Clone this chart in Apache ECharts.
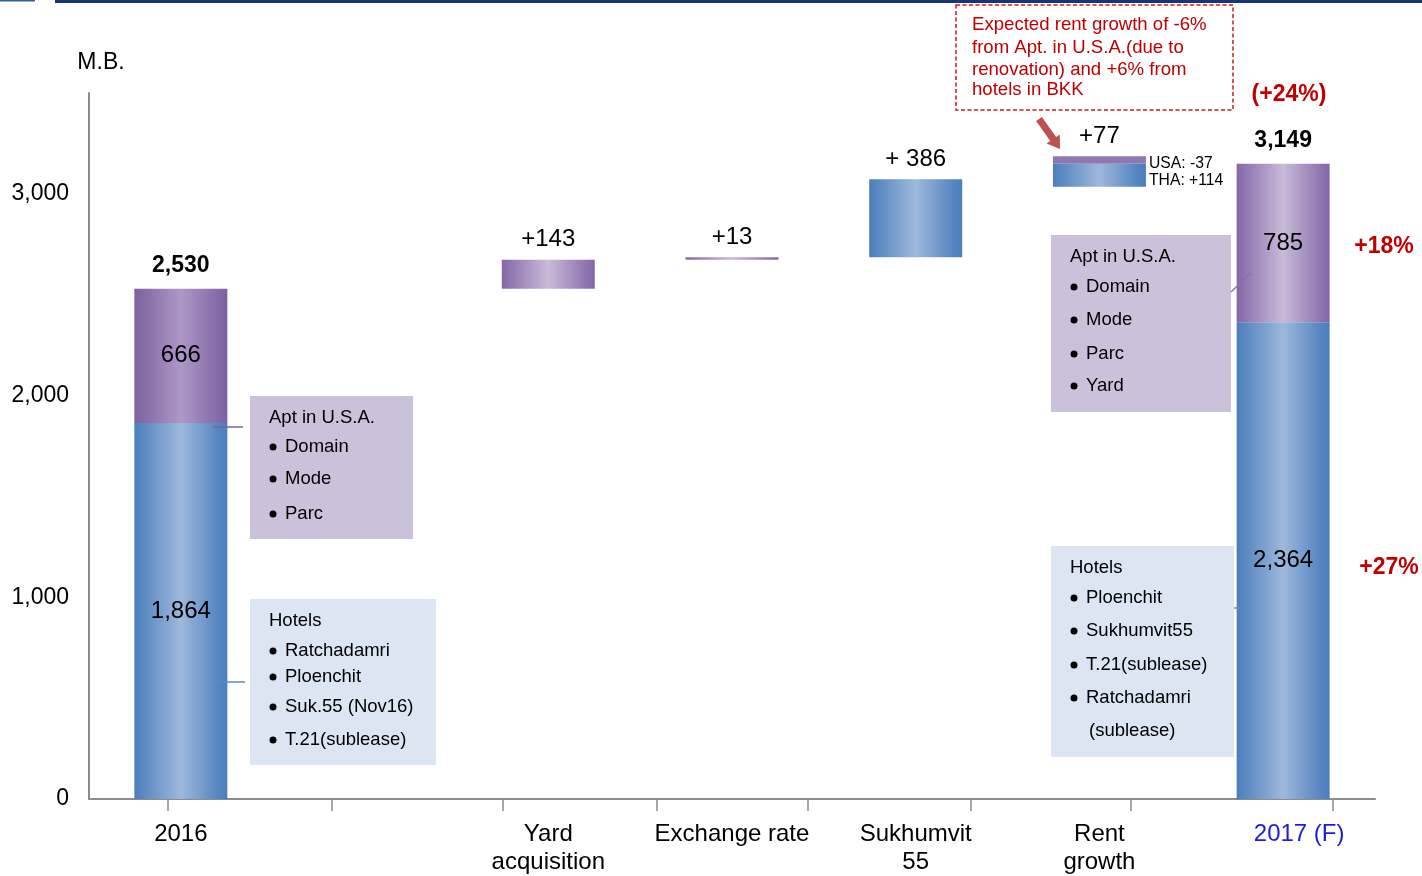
<!DOCTYPE html>
<html>
<head>
<meta charset="utf-8">
<script src="https://cdn.jsdelivr.net/npm/echarts@6/dist/echarts.min.js"></script>
<style>
  html, body { margin: 0; padding: 0; background: #fff; }
  #chart { width: 1422px; height: 876px; }
</style>
</head>
<body>
<div id="chart"></div>
<script>
// Revenue bridge 2016 -> 2017 (F), million baht
const categories = ['2016', '', 'Yard\nacquisition', 'Exchange rate', 'Sukhumvit\n55', 'Rent\ngrowth', '2017 (F)'];
const baseValues = [0, null, 2530, 2673, 2686, 3035, 0];      // invisible floor of each step
const hotelValues = [1864, null, null, null, 386, 114, 2364];  // hotels in Thailand
const aptValues = [666, null, 143, 13, null, 37, 785];         // apartments in U.S.A.
const totalValues = [2530, null, null, null, null, null, 3149];
const changeLabels = ['', '', '+143', '+13', '+ 386', '+77', ''];
const yTicks = [0, 1000, 2000, 3000];

const FONT = '"Liberation Sans", Arial, sans-serif';
const fmt = v => v.toLocaleString('en-US');
const isTotal = i => totalValues[i] != null;

const grad = stops => new echarts.graphic.LinearGradient(0, 0, 1, 0,
  stops.map(c => ({ offset: c[0], color: c[1] })));
const blueFill = grad([[0, '#4b7ebc'], [0.5, '#9db8db'], [0.9, '#5686c2'], [1, '#4b7ebc']]);
const purpleFill = grad([[0, '#8467a6'], [0.5, '#c8bbd9'], [0.92, '#8c73ae'], [1, '#8467a6']]);
const purpleDark = grad([[0, '#7d60a1'], [0.5, '#ad98c6'], [0.92, '#8468a7'], [1, '#7d60a1']]);
const purpleFlat = '#8f78b1';

const labelBase = { fontFamily: FONT, fontSize: 24, color: '#000' };

function segment(values, i, isTop, fill) {
  const v = values[i];
  if (v == null) return null;
  const item = { value: v };
  if (isTotal(i)) {
    item.label = Object.assign({ show: true, position: 'inside', formatter: fmt(v) }, labelBase);
  } else if (isTop && changeLabels[i]) {
    item.label = Object.assign({ show: true, position: 'top', distance: 8, formatter: changeLabels[i] }, labelBase);
  }
  if (fill) item.itemStyle = { color: fill };
  return item;
}

const hotelData = hotelValues.map((v, i) => segment(hotelValues, i, aptValues[i] == null, null));
const aptData = aptValues.map((v, i) => {
  let fill = null;
  if (i === 0) fill = purpleDark;
  if (i === 5) fill = purpleFlat;
  return segment(aptValues, i, true, fill);
});

const BOX_FONT = '18.5px ' + FONT;

// annotation boxes listing the properties
function infoBox(x, y, w, h, fill, title, rows) {
  const children = [{ type: 'rect', shape: { x: x, y: y, width: w, height: h }, style: { fill: fill } }];
  children.push({ type: 'text', x: title[0], y: title[1], style: { text: title[2], font: BOX_FONT, fill: '#000', verticalAlign: 'middle' } });
  rows.forEach(r => {
    if (r[3] !== false) {
      children.push({ type: 'circle', shape: { cx: r[0] - 12, cy: r[1], r: 3.5 }, style: { fill: '#000' } });
    }
    children.push({ type: 'text', x: r[0], y: r[1], style: { text: r[2], font: BOX_FONT, fill: '#000', verticalAlign: 'middle' } });
  });
  return { type: 'group', children: children };
}

const NOTE_FONT = '18.6px ' + FONT;

const graphics = [
  { type: 'rect', shape: { x: 55, y: 0, width: 1367, height: 3 }, style: { fill: '#1b3478' } },
  { type: 'rect', shape: { x: 0, y: 0, width: 35, height: 1.5 }, style: { fill: '#2f5ea8' } },

  infoBox(250, 396, 163, 143, '#ccc1da', [269, 418, 'Apt in U.S.A.'],
    [[285, 447, 'Domain'], [285, 479, 'Mode'], [285, 514, 'Parc']]),
  infoBox(250, 599, 186, 166, '#dce6f2', [269, 621, 'Hotels'],
    [[285, 651, 'Ratchadamri'], [285, 677, 'Ploenchit'], [285, 707, 'Suk.55 (Nov16)'], [285, 740, 'T.21(sublease)']]),
  infoBox(1051, 235, 180, 177, '#ccc1da', [1070, 257, 'Apt in U.S.A.'],
    [[1086, 287, 'Domain'], [1086, 320, 'Mode'], [1086, 354, 'Parc'], [1086, 386, 'Yard']]),
  infoBox(1051, 546, 183, 211, '#dce6f2', [1070, 568, 'Hotels'],
    [[1086, 598, 'Ploenchit'], [1086, 631, 'Sukhumvit55'], [1086, 665, 'T.21(sublease)'], [1086, 698, 'Ratchadamri'], [1089, 731, '(sublease)', false]]),

  // connectors from the boxes to the bars
  { type: 'line', shape: { x1: 213, y1: 427, x2: 243, y2: 427 }, style: { stroke: '#7a63a0', lineWidth: 1.5 }, z: 10 },
  { type: 'line', shape: { x1: 214, y1: 682, x2: 245, y2: 682 }, style: { stroke: '#5a88c4', lineWidth: 1.5 }, z: 10 },
  { type: 'line', shape: { x1: 1231, y1: 292, x2: 1251, y2: 273 }, style: { stroke: '#8a72ad', lineWidth: 1.5 }, z: 10 },
  { type: 'line', shape: { x1: 1234, y1: 608, x2: 1248, y2: 608 }, style: { stroke: '#5a88c4', lineWidth: 1.5 }, z: 10 },

  // rent growth note
  { type: 'rect', shape: { x: 956, y: 5, width: 277, height: 105 }, style: { fill: 'none', stroke: '#d01818', lineWidth: 1.5, lineDash: [4, 2.5] } },
  { type: 'text', x: 972, y: 25, style: { text: 'Expected rent growth of -6%', font: NOTE_FONT, fill: '#c00000', verticalAlign: 'middle' } },
  { type: 'text', x: 972, y: 47.5, style: { text: 'from Apt. in U.S.A.(due to', font: NOTE_FONT, fill: '#c00000', verticalAlign: 'middle' } },
  { type: 'text', x: 972, y: 70, style: { text: 'renovation) and +6% from', font: NOTE_FONT, fill: '#c00000', verticalAlign: 'middle' } },
  { type: 'text', x: 972, y: 90, style: { text: 'hotels in BKK', font: NOTE_FONT, fill: '#c00000', verticalAlign: 'middle' } },
  { type: 'polygon', shape: { points: [[1036.1, 121.0], [1050.3, 141.1], [1046.6, 143.6], [1060, 149], [1059.8, 134.6], [1056.1, 137.1], [1041.9, 117.0]] }, style: { fill: '#c0504d' } },

  { type: 'text', x: 1149, y: 164, style: { text: 'USA: -37', font: '15.7px ' + FONT, fill: '#000', verticalAlign: 'middle' } },
  { type: 'text', x: 1149, y: 181, style: { text: 'THA: +114', font: '15.7px ' + FONT, fill: '#000', verticalAlign: 'middle' } },

  // growth rates
  { type: 'text', x: 1289, y: 95, style: { text: '(+24%)', font: 'bold 23px ' + FONT, fill: '#c00000', align: 'center', verticalAlign: 'middle' } },
  { type: 'text', x: 1384, y: 247, style: { text: '+18%', font: 'bold 23px ' + FONT, fill: '#c00000', align: 'center', verticalAlign: 'middle' } },
  { type: 'text', x: 1389, y: 568, style: { text: '+27%', font: 'bold 23px ' + FONT, fill: '#c00000', align: 'center', verticalAlign: 'middle' } }
];

const chart = echarts.init(document.getElementById('chart'), null, { renderer: 'canvas' });
chart.setOption({
  animation: false,
  backgroundColor: '#ffffff',
  textStyle: { fontFamily: FONT },
  grid: { left: 89, right: 47, top: 93, bottom: 74, containLabel: false },
  xAxis: [
    {
      type: 'category',
      data: categories,
      axisLine: { lineStyle: { color: '#8c8c8c', width: 2 } },
      axisTick: { show: false },
      axisLabel: {
        interval: 0,
        margin: 21,
        fontSize: 24,
        lineHeight: 28,
        color: '#000',
        fontFamily: FONT,
        formatter: (v, i) => i === categories.length - 1 ? '{f|' + v + '}' : v,
        rich: { f: { color: '#1c1cdc', fontSize: 24, fontFamily: FONT, padding: [0, 0, 0, 32] } }
      }
    },
    {
      type: 'value',
      min: 0,
      max: 7,
      position: 'bottom',
      axisLine: { show: false },
      splitLine: { show: false },
      axisLabel: { show: false },
      axisTick: {
        show: true,
        length: 12,
        lineStyle: { color: '#8c8c8c', width: 1.5 },
        customValues: [0.43, 1.32, 2.25, 3.09, 3.91, 4.8, 5.67, 6.77]
      }
    }
  ],
  yAxis: {
    type: 'value',
    min: 0,
    max: 3500,
    interval: 1000,
    name: 'M.B.',
    nameLocation: 'end',
    nameGap: 19,
    nameTextStyle: { fontSize: 23, color: '#000', fontFamily: FONT, align: 'center', padding: [0, 0, 0, 24] },
    axisLine: { show: true, lineStyle: { color: '#8c8c8c', width: 2 } },
    axisTick: { show: false },
    splitLine: { show: false },
    axisLabel: {
      margin: 20,
      fontSize: 23,
      color: '#000',
      fontFamily: FONT,
      customValues: yTicks,
      formatter: v => fmt(v)
    }
  },
  series: [
    {
      type: 'bar', stack: 'bridge', barWidth: 93, silent: true,
      itemStyle: { color: 'transparent' },
      data: baseValues
    },
    {
      type: 'bar', stack: 'bridge', barWidth: 93, name: 'Hotels',
      itemStyle: { color: blueFill },
      data: hotelData
    },
    {
      type: 'bar', stack: 'bridge', barWidth: 93, name: 'Apt in U.S.A.',
      itemStyle: { color: purpleFill },
      data: aptData
    },
    {
      type: 'scatter', symbolSize: 1, silent: true,
      itemStyle: { color: 'rgba(255,255,255,0)' },
      label: {
        show: true, position: 'top', distance: 11, opacity: 1,
        fontFamily: FONT, fontSize: 23, fontWeight: 'bold', color: '#000',
        formatter: p => fmt(p.value)
      },
      data: totalValues
    }
  ],
  graphic: graphics
});
</script>
</body>
</html>
